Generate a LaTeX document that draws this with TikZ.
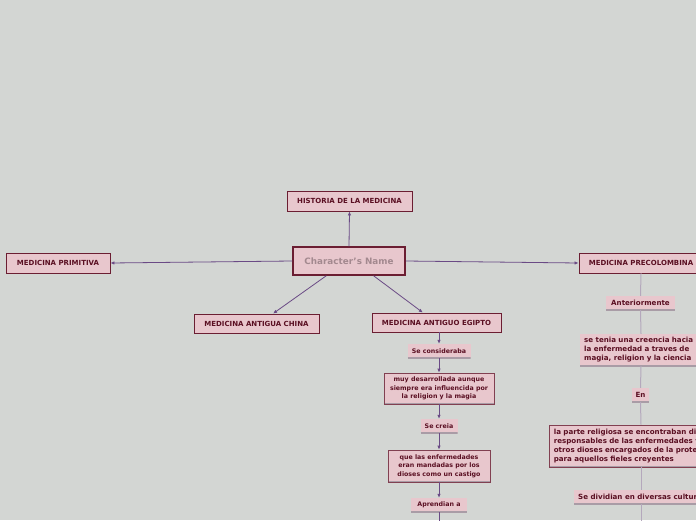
\documentclass[tikz,border=0pt]{standalone}
\usepackage{fontspec}
\setmainfont{DejaVu Sans}
\usetikzlibrary{arrows.meta}
\definecolor{bg}{HTML}{D3D6D3}
\definecolor{pinkf}{HTML}{E8C7CD}
\definecolor{bord}{HTML}{6B1E32}
\definecolor{txt}{HTML}{5A0F22}
\definecolor{conn}{HTML}{6A4A85}
\definecolor{lconn}{HTML}{B4A8BC}
\definecolor{shad}{HTML}{A99CA6}
\definecolor{ctext}{HTML}{A3898F}
\begin{document}
\begin{tikzpicture}[x=1pt,y=-1pt,
  mainbox/.style={draw=bord, line width=0.9pt, fill=pinkf, text=txt,
    font=\bfseries\fontsize{7}{8}\selectfont, inner sep=0pt, minimum height=20pt},
  subbox/.style={fill=pinkf, text=txt, font=\bfseries\fontsize{6.3}{8.6}\selectfont,
    inner sep=0pt, minimum height=14pt,
    path picture={\draw[shad, line width=2pt] (path picture bounding box.south west) -- (path picture bounding box.south east);}},
  pcbox/.style={subbox, font=\bfseries\fontsize{7.1}{9}\selectfont},
  framed/.style={draw=bord!85, line width=0.7pt},
  arr/.style={draw=conn, line width=0.8pt, -{Latex[length=4pt,width=3.5pt]}},
  lline/.style={draw=lconn, line width=1pt}]
\fill[bg, use as bounding box] (0,0) rectangle (696,520);
\clip (0,0) rectangle (696,520);

% main nodes
\node[mainbox, minimum width=112pt, minimum height=28pt, line width=1.5pt,
  font=\bfseries\fontsize{8.8}{10}\selectfont, text=ctext] (c) at (349,261) {Character's Name};
\node[mainbox, minimum width=125pt] (hist) at (349.5,201) {HISTORIA DE LA MEDICINA};
\node[mainbox, minimum width=104pt] (prim) at (58,263) {MEDICINA PRIMITIVA};
\node[mainbox, minimum width=125pt, minimum height=19pt] (china) at (256.5,323.5) {MEDICINA ANTIGUA CHINA};
\node[mainbox, minimum width=129pt, minimum height=19pt] (egip) at (436.5,322.5) {MEDICINA ANTIGUO EGIPTO};
\node[mainbox, minimum width=124pt] (prec) at (641,263) {MEDICINA PRECOLOMBINA};

\draw[arr] (c.north) -- (hist.south);
\draw[arr] (c.west) -- (prim.east);
\draw[arr] (c.-147.5) -- (china.31.5);
\draw[arr] (c.-31.3) -- (egip.144.9);
\draw[arr] (c.east) -- (prec.west);

% Egypt chain
\node[subbox, minimum width=63pt] (consid) at (439,351) {Se consideraba};
\node[subbox, framed, minimum width=110pt, minimum height=31pt, align=center] (desarr) at (439,388.5)
  {muy desarrollada aunque\\siempre era influencida por\\la religion y la magia};
\node[subbox, minimum width=37pt] (creia) at (439,426) {Se creia};
\node[subbox, framed, minimum width=102pt, minimum height=32pt, align=center] (quelas) at (439,466)
  {que las enfermedades\\eran mandadas por los\\dioses como un castigo};
\node[subbox, minimum width=56pt] (aprend) at (439,505) {Aprendian a};
\coordinate (eend) at (439,522);

\draw[arr] (egip.south -| consid.north) -- (consid.north);
\draw[arr] (consid.south) -- (desarr.north);
\draw[arr] (desarr.south) -- (creia.north);
\draw[arr] (creia.south) -- (quelas.north);
\draw[arr] (quelas.south) -- (aprend.north);
\draw[draw=conn, line width=0.8pt] (aprend.south) -- (eend);

% Precolombina chain
\coordinate (pcol) at (641,0);
\coordinate (pend) at (641,522);
\node[pcbox, minimum width=69pt] (anter) at (640.5,303) {Anteriormente};
\node[pcbox, anchor=west, minimum height=32pt, text width=132pt, align=left, inner xsep=4pt] (stenia) at (580,350)
  {se tenia una creencia hacia\\la enfermedad a traves de\\magia, religion y la ciencia};
\node[pcbox, minimum width=17pt] (en) at (640.5,395) {En};
\node[pcbox, framed, anchor=west, minimum height=42pt, text width=180pt, align=left, inner xsep=4.5pt] (relig) at (549,446)
  {la parte religiosa se encontraban dioses\\responsables de las enfermedades y\\otros dioses encargados de la proteccion\\para aquellos fieles creyentes};
\node[pcbox, anchor=west, inner xsep=4pt] (divid) at (574,497) {Se dividian en diversas culturas};

\draw[lline] (prec.south) -- (anter.north);
\draw[lline] (anter.south) -- (pcol |- stenia.north);
\draw[lline] (pcol |- stenia.south) -- (en.north);
\draw[lline] (en.south) -- (pcol |- relig.north);
\draw[lline] (pcol |- relig.south) -- (pcol |- divid.north);
\draw[lline] (pcol |- divid.south) -- (pend);
\end{tikzpicture}
\end{document}
